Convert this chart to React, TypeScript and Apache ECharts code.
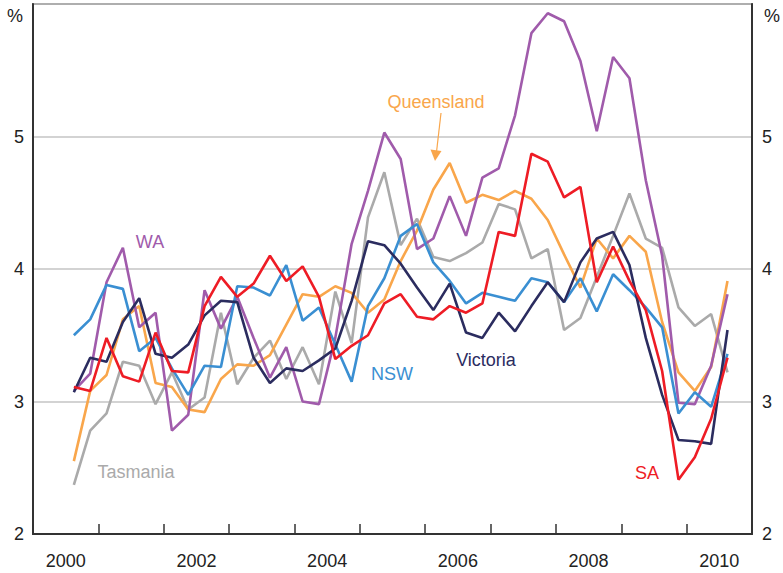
import React, { useEffect, useRef } from "react";
import * as echarts from "echarts";

// Quarterly observations, Sep quarter 2000 .. Sep quarter 2010 (41 points)
const firstQuarterMid = 2000.625;
const quarterStep = 0.25;

const nsw = [3.50, 3.62, 3.88, 3.85, 3.38, 3.48, 3.25, 3.05, 3.27, 3.26, 3.87, 3.86, 3.80, 4.03, 3.61, 3.71, 3.43, 3.15, 3.72, 3.93, 4.25, 4.34, 4.05, 3.91, 3.74, 3.82, 3.79, 3.76, 3.93, 3.90, 3.75, 3.93, 3.68, 3.96, 3.84, 3.71, 3.56, 2.91, 3.07, 2.96, 3.36];
const victoria = [3.07, 3.33, 3.30, 3.60, 3.78, 3.36, 3.33, 3.43, 3.65, 3.76, 3.75, 3.33, 3.14, 3.25, 3.23, 3.31, 3.40, 3.76, 4.21, 4.18, 4.04, 3.86, 3.69, 3.89, 3.52, 3.48, 3.67, 3.53, 3.72, 3.90, 3.75, 4.05, 4.23, 4.28, 4.03, 3.48, 3.05, 2.71, 2.70, 2.68, 3.54];
const sa = [3.11, 3.08, 3.48, 3.19, 3.15, 3.52, 3.23, 3.22, 3.72, 3.94, 3.79, 3.89, 4.10, 3.91, 4.02, 3.79, 3.32, 3.42, 3.50, 3.74, 3.81, 3.64, 3.62, 3.72, 3.67, 3.74, 4.28, 4.25, 4.87, 4.81, 4.54, 4.62, 3.90, 4.17, 3.91, 3.69, 3.23, 2.41, 2.58, 2.87, 3.33];
const queensland = [2.55, 3.08, 3.20, 3.62, 3.72, 3.14, 3.11, 2.94, 2.92, 3.17, 3.28, 3.27, 3.35, 3.58, 3.81, 3.79, 3.87, 3.82, 3.67, 3.77, 4.06, 4.29, 4.60, 4.80, 4.50, 4.56, 4.52, 4.59, 4.53, 4.37, 4.11, 3.86, 4.23, 4.08, 4.25, 4.13, 3.60, 3.22, 3.08, 3.26, 3.91];
const wa = [3.08, 3.21, 3.90, 4.16, 3.56, 3.67, 2.78, 2.90, 3.84, 3.55, 3.79, 3.48, 3.18, 3.41, 3.00, 2.98, 3.48, 4.19, 4.59, 5.03, 4.83, 4.15, 4.23, 4.55, 4.25, 4.69, 4.76, 5.16, 5.78, 5.93, 5.87, 5.57, 5.04, 5.60, 5.44, 4.67, 4.10, 2.99, 2.98, 3.27, 3.81];
const tasmania = [2.37, 2.78, 2.91, 3.30, 3.27, 2.98, 3.22, 2.94, 3.03, 3.67, 3.13, 3.33, 3.46, 3.17, 3.41, 3.13, 3.83, 3.44, 4.39, 4.73, 4.18, 4.38, 4.09, 4.06, 4.12, 4.20, 4.49, 4.45, 4.08, 4.15, 3.54, 3.63, 3.94, 4.25, 4.57, 4.23, 4.16, 3.71, 3.57, 3.66, 3.22];

const yearLabels = ["2000", "2002", "2004", "2006", "2008", "2010"];
const yTicks = [2, 3, 4, 5, 6];

const colors = {
  nsw: "#3a8fd2",
  victoria: "#2b2c5f",
  sa: "#ee1c25",
  queensland: "#f9a64b",
  wa: "#a05bab",
  tasmania: "#aaaaaa",
};

const FONT = "'Liberation Sans', Arial, Helvetica, sans-serif";

function toPairs(vals: number[]) {
  return vals.map((v, i) => [firstQuarterMid + i * quarterStep, v]);
}

export default function App() {
  const ref = useRef<HTMLDivElement>(null);
  useEffect(() => {
    if (!ref.current) return;
    const chart = echarts.init(ref.current, undefined, { renderer: "svg" });
    const mk = (name: string, vals: number[], color: string) => ({
      name,
      type: "line",
      xAxisIndex: 0,
      yAxisIndex: 0,
      data: toPairs(vals),
      showSymbol: false,
      symbol: "none",
      lineStyle: { color, width: 2.6 },
      itemStyle: { color },
    });
    const label = (text: string, x: number, y: number, color: string) => ({
      type: "text",
      x,
      y,
      z: 100,
      style: {
        text,
        fill: color,
        fontSize: 18,
        fontFamily: FONT,
        align: "center",
        verticalAlign: "middle",
      },
    });
    chart.setOption({
      animation: false,
      grid: {
        left: 33,
        right: 31,
        top: 4,
        bottom: 39,
        show: true,
        borderColor: "#3c3c3c",
        borderWidth: 1.5,
        backgroundColor: "transparent",
      },
      xAxis: [
        {
          type: "value",
          min: 2000,
          max: 2011,
          interval: 1,
          position: "bottom",
          axisLine: { show: true, lineStyle: { color: "#333", width: 2 } },
          axisTick: { show: true, inside: true, length: 10, lineStyle: { color: "#333", width: 1.5 } },
          axisLabel: { show: false },
          splitLine: { show: false },
        },
        {
          type: "value",
          min: 0,
          max: 22,
          interval: 1,
          position: "bottom",
          axisLine: { show: false },
          axisTick: { show: false },
          splitLine: { show: false },
          axisLabel: {
            show: true,
            margin: 18,
            fontSize: 18,
            fontFamily: FONT,
            color: "#222",
            formatter: (v: number) => {
              if (v % 4 !== 1) return "";
              const idx = (v - 1) / 4;
              return yearLabels[idx] ?? "";
            },
          },
        },
      ],
      yAxis: [
        {
          type: "value",
          min: yTicks[0],
          max: yTicks[yTicks.length - 1],
          interval: 1,
          position: "left",
          axisLine: { show: true, lineStyle: { color: "#333", width: 2 } },
          axisTick: { show: false },
          axisLabel: {
            margin: 9,
            fontSize: 18,
            fontFamily: FONT,
            color: "#222",
            formatter: (v: number) => (v === 6 ? "" : String(v)),
          },
          splitLine: { show: true, lineStyle: { color: "#c4c4c4", width: 1.5 } },
        },
        {
          type: "value",
          min: yTicks[0],
          max: yTicks[yTicks.length - 1],
          interval: 1,
          position: "right",
          axisLine: { show: true, lineStyle: { color: "#333", width: 2 } },
          axisTick: { show: false },
          axisLabel: {
            margin: 10,
            fontSize: 18,
            fontFamily: FONT,
            color: "#222",
            formatter: (v: number) => (v === 6 ? "" : String(v)),
          },
          splitLine: { show: false },
        },
      ],
      series: [
        mk("Tasmania", tasmania, colors.tasmania),
        mk("Queensland", queensland, colors.queensland),
        mk("WA", wa, colors.wa),
        mk("NSW", nsw, colors.nsw),
        mk("Victoria", victoria, colors.victoria),
        mk("SA", sa, colors.sa),
      ],
      graphic: [
        label("%", 15, 16, "#222"),
        label("%", 772, 16, "#222"),
        label("Queensland", 436, 102, colors.queensland),
        label("WA", 150, 242, colors.wa),
        label("NSW", 392, 374, colors.nsw),
        label("Victoria", 486, 360, colors.victoria),
        label("Tasmania", 136, 472, colors.tasmania),
        label("SA", 647, 473, colors.sa),
        {
          type: "line",
          z: 100,
          shape: { x1: 441, y1: 113, x2: 436.5, y2: 152 },
          style: { stroke: colors.queensland, lineWidth: 1.2 },
        },
        {
          type: "polygon",
          z: 100,
          shape: { points: [[430.5, 149.5], [441.5, 151], [435, 161]] },
          style: { fill: colors.queensland },
        },
      ],
    });
    return () => chart.dispose();
  }, []);
  return (
    <div
      ref={ref}
      style={{ position: "fixed", left: 0, top: 0, width: 783, height: 573, background: "#fff" }}
    />
  );
}
